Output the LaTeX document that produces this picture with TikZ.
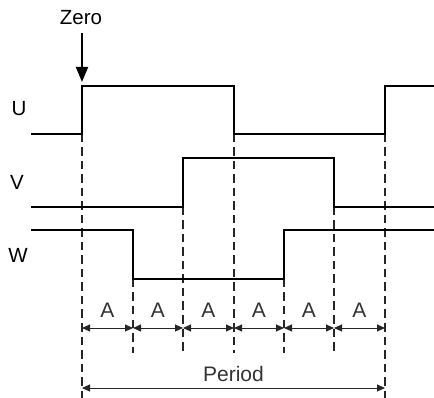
\documentclass[tikz,border=0pt]{standalone}
\usepackage{fontspec}
\setmainfont{Liberation Sans}
\usetikzlibrary{arrows.meta}
\begin{document}
\begin{tikzpicture}[x=1pt,y=-1pt,
  wave/.style={line width=1.9pt,black,line join=miter},
  guide/.style={line width=1.2pt,draw=black!85,dash pattern=on 8.5pt off 5pt},
  dim/.style={line width=0.9pt,black!85,{Triangle[length=8pt,width=7pt]}-{Triangle[length=8pt,width=7pt]}},
  lbl/.style={font=\fontsize{21}{23}\selectfont,inner sep=0pt,text=black!80},
  sig/.style={font=\fontsize{20.5}{23}\selectfont,inner sep=0pt}]
\useasboundingbox (0,0) rectangle (434,398);
% guides
\draw[guide] (82,134) -- (82,398);
\draw[guide] (133,279) -- (133,353);
\draw[guide] (183,207) -- (183,353);
\draw[guide] (234,134) -- (234,353);
\draw[guide] (284,279) -- (284,353);
\draw[guide] (334,207) -- (334,353);
\draw[guide] (385,134) -- (385,398);
% waveforms
\draw[wave] (31,134) -- (82,134) -- (82,86) -- (234,86) -- (234,134) -- (385,134) -- (385,86) -- (434,86);
\draw[wave] (31,207) -- (183,207) -- (183,158) -- (334,158) -- (334,207) -- (434,207);
\draw[wave] (31,230) -- (133,230) -- (133,279) -- (284,279) -- (284,230) -- (434,230);
% signal labels
\node[sig] (u) at (19,109) {U};
\node[sig] (v) at (17,182) {V};
\node[sig] (w) at (18,255) {W};
% zero
\node[sig] (zero) at (81,18) {Zero};
\coordinate (zs) at (82,33);
\coordinate (ze) at (82,82);
\draw[line width=1.8pt,-{Triangle[length=15pt,width=12pt]}] (zs) -- (ze);
% A intervals
\foreach \a/\b [count=\i] in {82/133,133/183,183/234,234/284,284/334,334/385}{
  \coordinate (l\i) at (\a,328);
  \coordinate (r\i) at (\b,328);
  \draw[dim] (l\i) -- (r\i);
  \node[lbl] (a\i) at ({(\a+\b)/2},310) {A};
}
\coordinate (pl) at (82,388);
\coordinate (pr) at (385,388);
\draw[dim] (pl) -- (pr);
\node[lbl] (period) at (233.5,374) {Period};
\end{tikzpicture}
\end{document}
